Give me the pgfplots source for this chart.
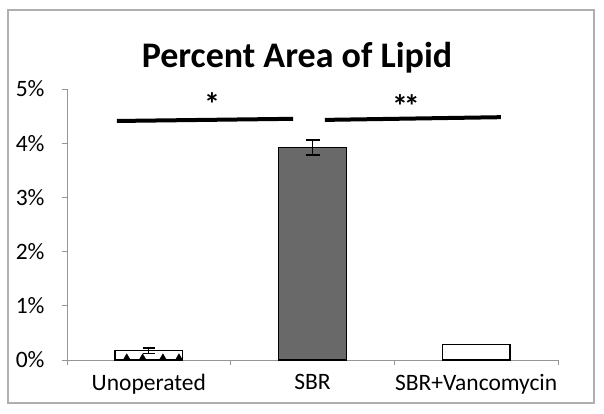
\documentclass[border=0pt]{standalone}
\usepackage{pgfplots}
\pgfplotsset{compat=1.18}
\usepackage{fontspec}
\setmainfont{Carlito}
\definecolor{axgray}{RGB}{150,150,150}
\definecolor{bargray}{RGB}{105,105,105}
\definecolor{framegray}{RGB}{175,175,175}
\begin{document}
\begin{tikzpicture}
\path[use as bounding box] (0,0) rectangle (604pt,413pt);
\draw[framegray, line width=1.2pt] (8pt,10pt) rectangle (594pt,403pt);
\node[anchor=base, font=\fontsize{36}{40}\selectfont\bfseries] at (297pt,345pt) {Percent Area of Lipid};
\begin{axis}[
  at={(67pt,53pt)}, anchor=south west,
  scale only axis, width=491pt, height=271pt,
  xmin=-0.5, xmax=2.5, ymin=0, ymax=5,
  axis lines*=left,
  axis line style={axgray, line width=1pt},
  tick align=outside,
  major tick length=5pt,
  tick style={axgray, line width=1pt},
  ytick={0,1,2,3,4,5},
  yticklabel={\pgfmathprintnumber{\tick}\%},
  /pgf/number format/assume math mode=true,
  tick label style={font=\fontsize{23.5}{26}\selectfont},
  yticklabel style={xshift=-14pt},
  xtick={-0.5,0.5,1.5,2.5},
  xticklabels={},
  extra x ticks={0,1,2},
  extra x tick labels={Unoperated,SBR,SBR+Vancomycin},
  extra x tick style={major tick length=0pt, xticklabel style={yshift=-11pt}},
  clip=false,
]
\addplot[ybar, bar width=0.415, bar shift=0pt, fill=white, draw=black, line width=1.3pt,
  error bars/.cd, y dir=both, y explicit,
  error bar style={line width=1.3pt, black},
  error mark options={rotate=90, mark size=6pt, line width=1.3pt, black}]
  coordinates {(0,0.17) +- (0,0.05)};
\addplot[ybar, bar width=0.415, bar shift=0pt, fill=bargray, draw=black, line width=1.3pt,
  error bars/.cd, y dir=both, y explicit,
  error bar style={line width=1.3pt, black},
  error mark options={rotate=90, mark size=7pt, line width=1.3pt, black}]
  coordinates {(1,3.92) +- (0,0.14)};
\addplot[ybar, bar width=0.415, bar shift=0pt, fill=white, draw=black, line width=1.3pt]
  coordinates {(2,0.29)};
\addplot[only marks, mark=triangle*, mark size=3.5pt, black]
  coordinates {(-0.135,0.05) (-0.038,0.05) (0.086,0.05) (0.184,0.05)};
\addplot[black, line width=4pt, no marks] coordinates {(-0.195,4.41) (0.881,4.45)};
\addplot[black, line width=4pt, no marks] coordinates {(1.076,4.43) (2.151,4.48)};
\node[font=\fontsize{32}{36}\selectfont\bfseries] at (axis cs:0.386,4.72) {*};
\node[font=\fontsize{32}{36}\selectfont\bfseries] at (axis cs:1.571,4.68) {*\kern-4pt*};
\end{axis}
\end{tikzpicture}
\end{document}
